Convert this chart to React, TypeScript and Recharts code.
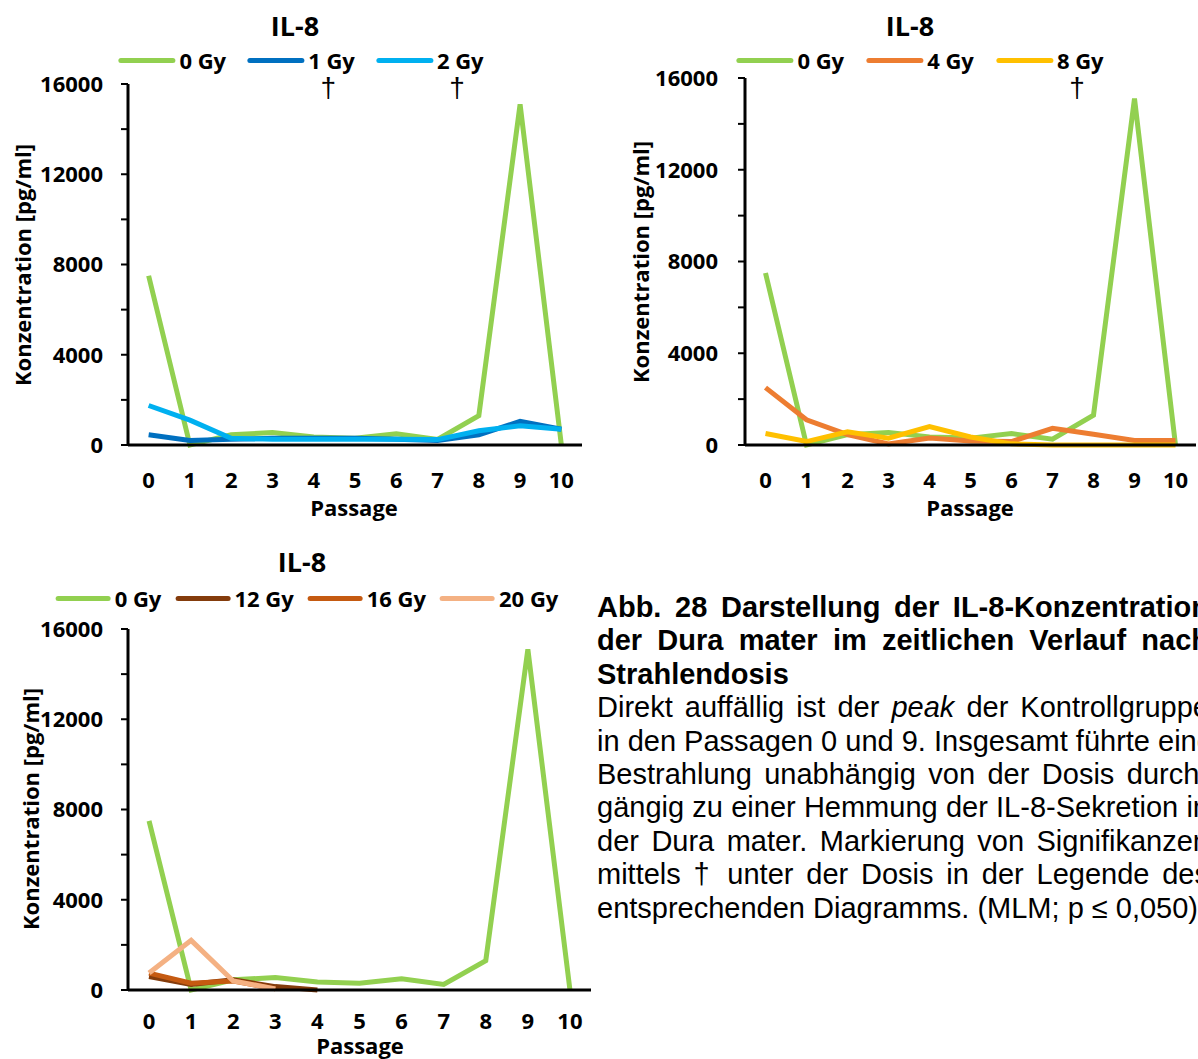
import React from "react";
import { LineChart, Line, XAxis, YAxis } from "recharts";

const passages = [0, 1, 2, 3, 4, 5, 6, 7, 8, 9, 10];
const dose0 = [7500, 0, 450, 550, 350, 300, 500, 250, 1300, 15100, 0];
const dose1 = [450, 200, 250, 300, 300, 300, 250, 200, 450, 1050, 700];
const dose2 = [1750, 1100, 300, 250, 250, 250, 250, 240, 630, 850, 700];
const dose4 = [2500, 1100, 450, 50, 300, 170, 150, 730, 470, 200, 200];
const dose8 = [500, 150, 580, 300, 800, 350, 50, 0, 0, 0, 0];
const dose12 = [600, 250, 450, 150, 0];
const dose16 = [750, 300, 400, 50];
const dose20 = [750, 2200, 400, 50];
const yTicks = [0, 2000, 4000, 6000, 8000, 10000, 12000, 14000, 16000];
const yLabelTicks = [0, 4000, 8000, 12000, 16000];

const FONT = "'Open Sans', sans-serif";

type Series = { key: string; name: string; color: string; values: number[]; dagger?: boolean };

const panel1: Series[] = [
  { key: "d0", name: "0 Gy", color: "#92D050", values: dose0 },
  { key: "d1", name: "1 Gy", color: "#0070C0", values: dose1, dagger: true },
  { key: "d2", name: "2 Gy", color: "#00B0F0", values: dose2, dagger: true },
];
const panel2: Series[] = [
  { key: "d0", name: "0 Gy", color: "#92D050", values: dose0 },
  { key: "d4", name: "4 Gy", color: "#ED7D31", values: dose4 },
  { key: "d8", name: "8 Gy", color: "#FFC000", values: dose8, dagger: true },
];
const panel3: Series[] = [
  { key: "d0", name: "0 Gy", color: "#92D050", values: dose0 },
  { key: "d12", name: "12 Gy", color: "#843C0C", values: dose12 },
  { key: "d16", name: "16 Gy", color: "#C55A11", values: dose16 },
  { key: "d20", name: "20 Gy", color: "#F4B183", values: dose20 },
];

function buildRows(series: Series[]) {
  return passages.map((p, i) => {
    const row: Record<string, number | undefined> = { p };
    series.forEach((s) => (row[s.key] = s.values[i]));
    return row;
  });
}

const YTick = (props: any) => {
  const { x, y, payload } = props;
  if (!yLabelTicks.includes(payload.value)) return <g />;
  return (
    <text x={x} y={y} dy="0.36em" textAnchor="end" fontFamily={FONT} fontWeight={700} fontSize={22} fill="#000">
      {payload.value}
    </text>
  );
};

const XTick = (props: any) => {
  const { x, y, payload } = props;
  return (
    <text x={x} y={y} dy="0.36em" textAnchor="middle" fontFamily={FONT} fontWeight={700} fontSize={22} fill="#000">
      {payload.value}
    </text>
  );
};

interface PanelProps {
  series: Series[];
  left: number;
  top: number;
  width: number;
  height: number;
  margin: { top: number; right: number; bottom: number; left: number };
  yTickMargin: number;
  xTickMargin: number;
  titleX: number;
  titleY: number;
  legendX: number;
  legendY: number;
  legendGap: number;
  swatch: number;
  yTitleX: number;
  yTitleY: number;
  xTitleX: number;
  xTitleY: number;
}

function Panel(p: PanelProps) {
  const data = buildRows(p.series);
  return (
    <>
      <div style={{ position: "absolute", left: p.titleX, top: p.titleY, transform: "translate(-50%, -50%)", fontFamily: FONT, fontWeight: 700, fontSize: 27 }}>
        IL-8
      </div>
      <div style={{ position: "absolute", left: p.legendX, top: p.legendY, transform: "translate(-50%, -50%)", display: "flex", alignItems: "center", gap: p.legendGap, whiteSpace: "nowrap" }}>
        {p.series.map((s) => (
          <div key={s.key} style={{ display: "flex", alignItems: "center" }}>
            <div style={{ width: p.swatch, height: 5, borderRadius: 3, background: s.color, marginRight: 4 }} />
            <span style={{ position: "relative", fontFamily: FONT, fontWeight: 700, fontSize: 22 }}>
              {s.name}
              {s.dagger && (
                <span style={{ position: "absolute", left: "50%", top: 28, transform: "translateX(-70%)", fontFamily: "'Liberation Sans', sans-serif", fontWeight: 400, fontSize: 28, lineHeight: "30px" }}>
                  †
                </span>
              )}
            </span>
          </div>
        ))}
      </div>
      <div style={{ position: "absolute", left: p.yTitleX, top: p.yTitleY, transform: "translate(-50%, -50%) rotate(-90deg)", fontFamily: FONT, fontWeight: 700, fontSize: 22, lineHeight: "24px", whiteSpace: "nowrap" }}>
        Konzentration [pg/ml]
      </div>
      <div style={{ position: "absolute", left: p.xTitleX, top: p.xTitleY, transform: "translate(-50%, -50%)", fontFamily: FONT, fontWeight: 700, fontSize: 22, lineHeight: "22px" }}>
        Passage
      </div>
      <div style={{ position: "absolute", left: p.left, top: p.top }}>
        <LineChart width={p.width} height={p.height} data={data} margin={p.margin}>
          <XAxis
            dataKey="p"
            type="number"
            domain={[-0.5, 10.5]}
            ticks={passages}
            tickLine={false}
            tickSize={0}
            tickMargin={p.xTickMargin}
            tick={<XTick />}
            axisLine={{ stroke: "#000", strokeWidth: 3 }}
            height={30}
          />
          <YAxis
            domain={[0, 16000]}
            ticks={yTicks}
            interval={0}
            tickSize={7}
            tickMargin={p.yTickMargin}
            tick={<YTick />}
            tickLine={{ stroke: "#000", strokeWidth: 2 }}
            axisLine={{ stroke: "#000", strokeWidth: 3 }}
            width={60}
          />
          {p.series.map((s) => (
            <Line key={s.key} type="linear" dataKey={s.key} stroke={s.color} strokeWidth={5} dot={false} isAnimationActive={false} />
          ))}
        </LineChart>
      </div>
    </>
  );
}

const boldLines = [
  "Abb. 28 Darstellung der IL-8-Konzentration",
  "der Dura mater im zeitlichen Verlauf nach",
];
const bodyLines = [
  "in den Passagen 0 und 9. Insgesamt führte eine",
  "Bestrahlung unabhängig von der Dosis durch-",
  "gängig zu einer Hemmung der IL-8-Sekretion in",
  "der Dura mater. Markierung von Signifikanzen",
  "mittels † unter der Dosis in der Legende des",
];

export default function App() {
  const lineStyle: React.CSSProperties = { width: 612, height: 33.4, lineHeight: "33.4px", textAlign: "justify", textAlignLast: "justify", whiteSpace: "nowrap" };
  return (
    <div style={{ position: "absolute", left: 0, top: 0, width: 1198, height: 1059, overflow: "hidden", background: "#fff", color: "#000" }}>
      <Panel
        series={panel1}
        left={0}
        top={0}
        width={600}
        height={530}
        margin={{ top: 84, right: 18, bottom: 55, left: 68 }}
        yTickMargin={18}
        xTickMargin={35}
        titleX={295}
        titleY={25}
        legendX={301}
        legendY={60}
        legendGap={21}
        swatch={57}
        yTitleX={22}
        yTitleY={265}
        xTitleX={354}
        xTitleY={507}
      />
      <Panel
        series={panel2}
        left={600}
        top={0}
        width={598}
        height={530}
        margin={{ top: 78, right: 2, bottom: 55, left: 85 }}
        yTickMargin={20}
        xTickMargin={35}
        titleX={910}
        titleY={25}
        legendX={920}
        legendY={60}
        legendGap={22}
        swatch={57}
        yTitleX={640}
        yTitleY={262}
        xTitleX={970}
        xTitleY={507}
      />
      <Panel
        series={panel3}
        left={0}
        top={540}
        width={600}
        height={530}
        margin={{ top: 89, right: 9, bottom: 50, left: 68 }}
        yTickMargin={18}
        xTickMargin={31}
        titleX={302}
        titleY={561}
        legendX={307}
        legendY={598}
        legendGap={14}
        swatch={55}
        yTitleX={30}
        yTitleY={809}
        xTitleX={360}
        xTitleY={1045}
      />
      <div style={{ position: "absolute", left: 597, top: 591, fontFamily: "'Liberation Sans', Arial, sans-serif", fontSize: 29 }}>
        {boldLines.map((t) => (
          <div key={t} style={{ ...lineStyle, fontWeight: 700 }}>{t}</div>
        ))}
        <div style={{ ...lineStyle, fontWeight: 700, textAlignLast: "left" }}>Strahlendosis</div>
        <div style={lineStyle}>
          Direkt auffällig ist der <i>peak</i> der Kontrollgruppe
        </div>
        {bodyLines.map((t) => (
          <div key={t} style={lineStyle}>{t}</div>
        ))}
        <div style={{ ...lineStyle, textAlignLast: "left" }}>entsprechenden Diagramms. (MLM; p ≤ 0,050).</div>
      </div>
    </div>
  );
}
